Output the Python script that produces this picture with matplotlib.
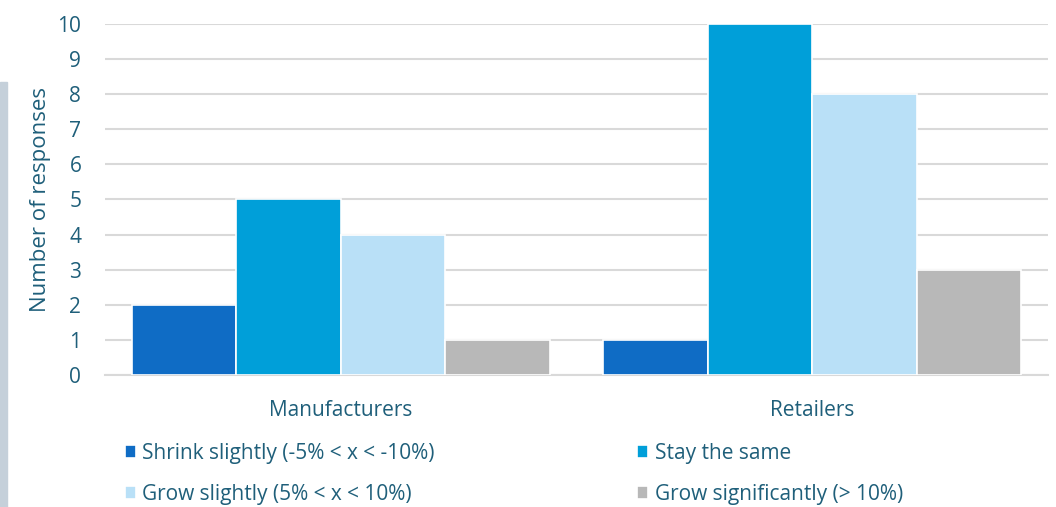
import numpy as np
import matplotlib.pyplot as plt
from matplotlib.patches import Rectangle

plt.rcParams['font.family'] = ['Open Sans', 'DejaVu Sans']

# Data
categories = ['Manufacturers', 'Retailers']
series_names = ['Shrink slightly (-5% < x < -10%)', 'Stay the same',
                'Grow slightly (5% < x < 10%)', 'Grow significantly (> 10%)']
shrink_slightly = [2, 1]
stay_same = [5, 10]
grow_slightly = [4, 8]
grow_significantly = [1, 3]

colors = ['#0f6cc5', '#009fd9', '#b9e0f7', '#b8b8b8']
text_color = '#1f5f7a'

fig = plt.figure(figsize=(10.56, 5.07), dpi=100)
ax = fig.add_axes([0.0994, 0.2604, 0.893, 0.6923])

# Grey strip at the left edge
fig.patches.append(Rectangle((0, 0), 7 / 1056, (507 - 82) / 507,
                             transform=fig.transFigure, color='#c5d0da', zorder=0))

x = np.arange(len(categories))
width = 0.2216
all_series = [shrink_slightly, stay_same, grow_slightly, grow_significantly]
handles = []
for i, (vals, name) in enumerate(zip(all_series, series_names)):
    h = ax.bar(x + (i - 1.5) * width, vals, width, color=colors[i], label=name,
               edgecolor='white', linewidth=1.2, zorder=3)
    handles.append(h)

ax.set_xlim(-0.5, 1.5)
ax.set_ylim(0, 10)
ax.set_yticks(range(0, 11))
ax.set_xticks(x)
ax.set_xticklabels(categories)
ax.yaxis.grid(True, color='#d9d9d9', linewidth=1.5, zorder=0)
ax.set_axisbelow(True)
for s in ['top', 'right', 'left']:
    ax.spines[s].set_visible(False)
ax.spines['bottom'].set_color('#d9d9d9')
ax.spines['bottom'].set_linewidth(1.5)
ax.tick_params(axis='both', length=0, labelsize=15, labelcolor=text_color)
ax.tick_params(axis='y', pad=17)
ax.tick_params(axis='x', pad=18)
ax.set_ylabel('Number of responses', fontsize=16, color=text_color)
ax.yaxis.set_label_coords(-0.057, 0.5)

# legend fills column-wise, so order for row-wise reading
order = [0, 2, 1, 3]
leg = fig.legend([handles[i] for i in order], [series_names[i] for i in order],
                 loc='upper left', bbox_to_anchor=(0.118, 0.126),
                 ncol=2, frameon=False, fontsize=15, handlelength=0.55,
                 handleheight=0.55, handletextpad=0.3, columnspacing=9.7,
                 labelspacing=0.95, borderaxespad=0, borderpad=0)
for t in leg.get_texts():
    t.set_color(text_color)

fig.savefig('out.png', dpi=100)
